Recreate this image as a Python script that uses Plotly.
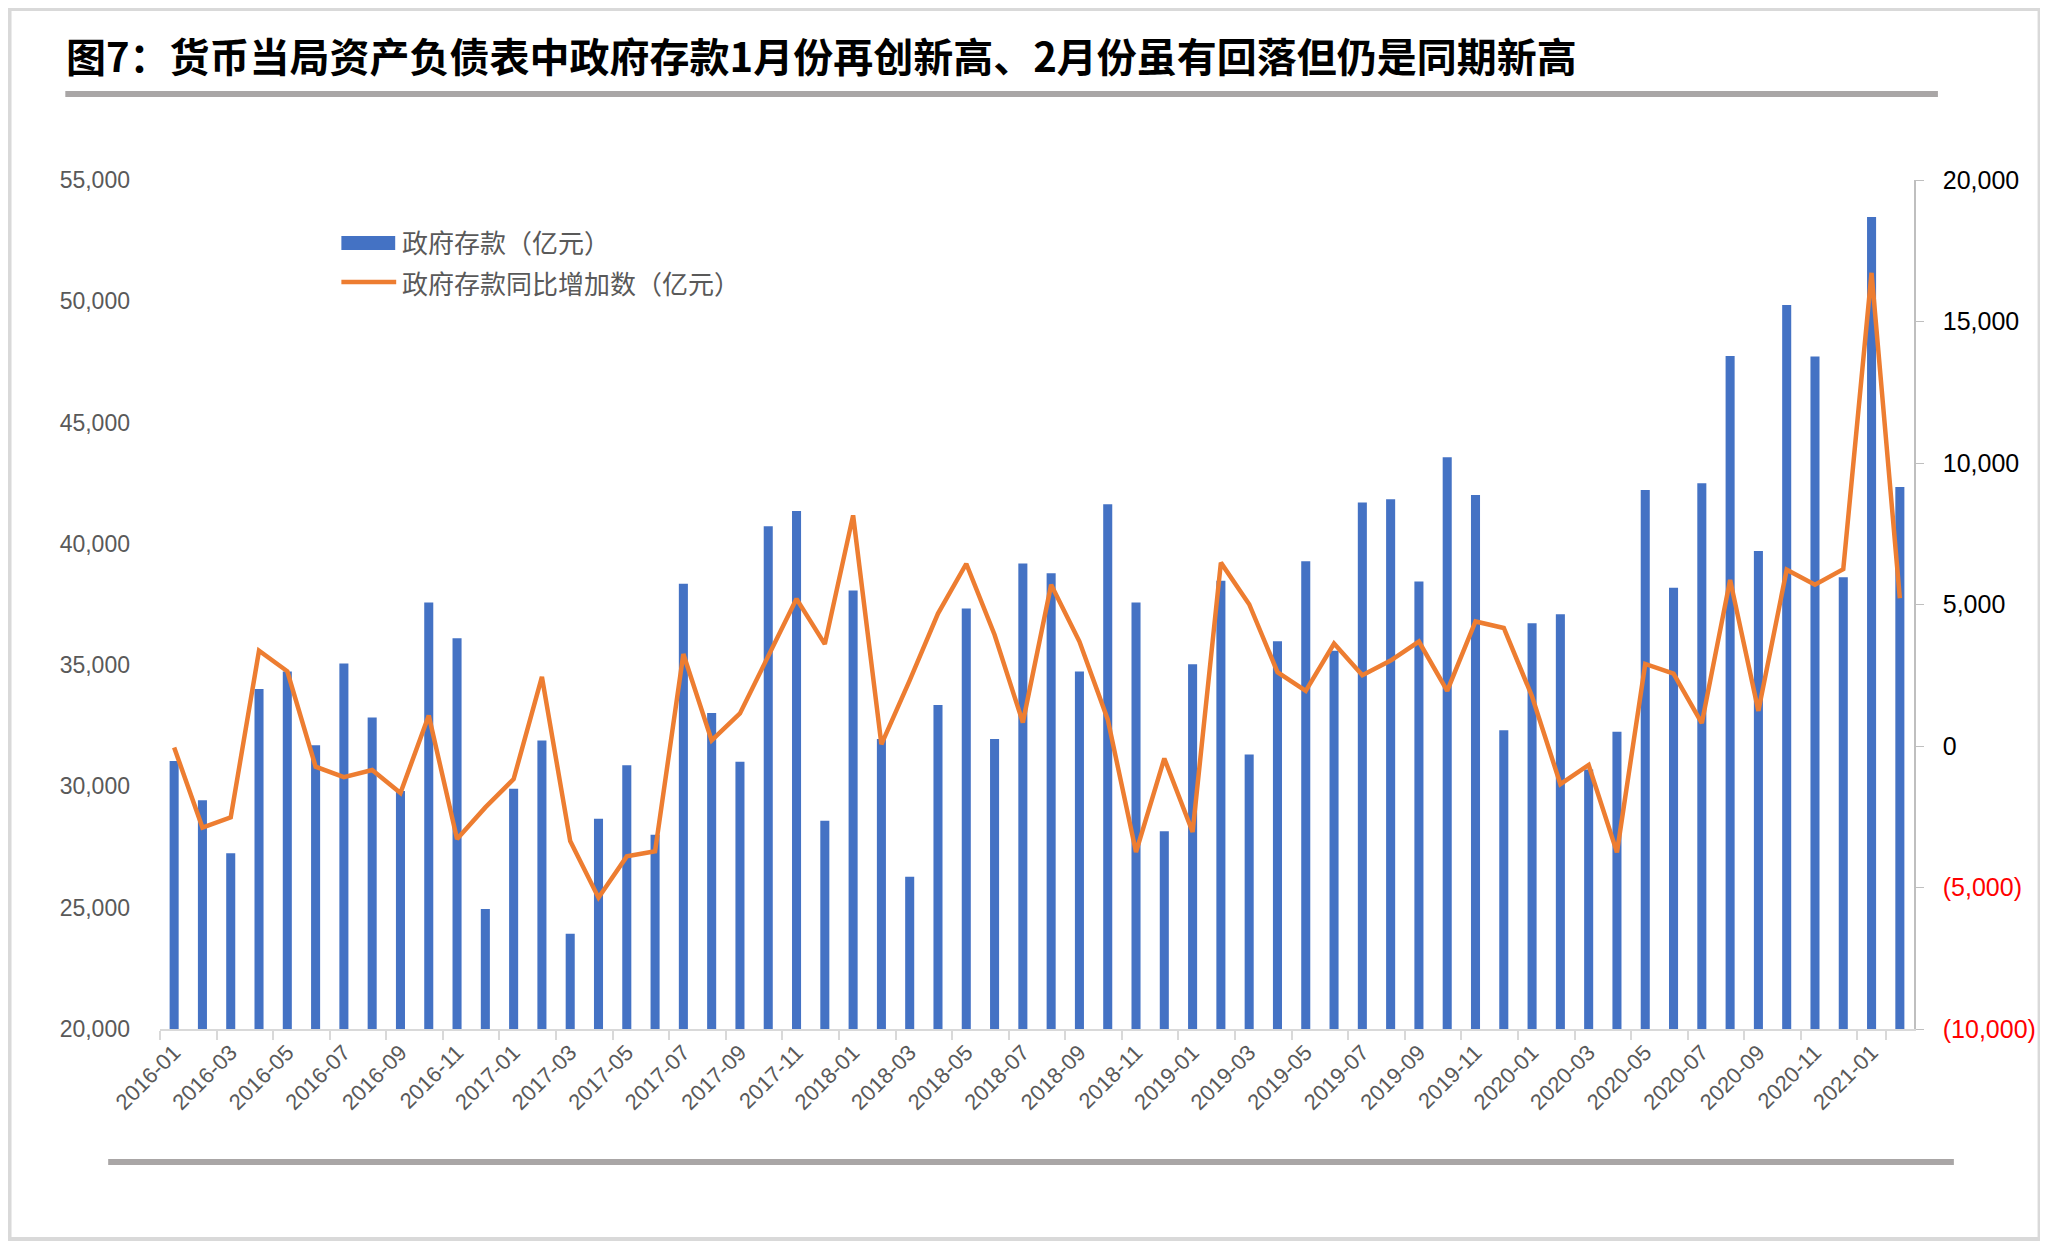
import pandas as pd
import plotly.graph_objects as go

# ---- data ----
months = list(pd.period_range("2016-01", "2021-02", freq="M").strftime("%Y-%m"))

# 政府存款（亿元）
gov_deposits = [
    31050, 29430, 27250, 34020, 34740, 31700, 35070, 32840, 29810, 37580, 36110, 24950,
    29900, 31890, 23930, 28670, 30870, 28010, 38360, 33030, 31020, 40730, 41350, 28580,
    38080, 31960, 26280, 33360, 37340, 31960, 39190, 38790, 34740, 41630, 37580, 28150,
    35040, 38480, 31320, 35990, 39280, 35590, 41700, 41840, 38450, 43570, 42010, 32320,
    36730, 37100, 30700, 32250, 42220, 38190, 42500, 47740, 39710, 49850, 47720, 38620,
    53470, 42340,
]

# 政府存款同比增加数（亿元）
yoy_increase = [
    -50, -2880, -2520, 3370, 2640, -730, -1100, -850, -1660, 1080, -3290, -2170,
    -1170, 2440, -3360, -5360, -3900, -3720, 3250, 200, 1150, 3150, 5200, 3600,
    8150, 60, 2320, 4680, 6440, 3930, 830, 5700, 3690, 940, -3750, -440,
    -3040, 6480, 5010, 2610, 1950, 3620, 2500, 3020, 3690, 1950, 4400, 4170,
    1750, -1350, -670, -3760, 2900, 2560, 810, 5870, 1240, 6230, 5700, 6250,
    16720, 5220,
]

left_ticks = [20000, 25000, 30000, 35000, 40000, 45000, 50000, 55000]
right_ticks = [-10000, -5000, 0, 5000, 10000, 15000, 20000]

title_text = "图7：货币当局资产负债表中政府存款1月份再创新高、2月份虽有回落但仍是同期新高"
bar_name = "政府存款（亿元）"
line_name = "政府存款同比增加数（亿元）"

BLUE = "#4472C4"
ORANGE = "#ED7D31"
GREY_TXT = "#595959"
CJK = "Noto Sans CJK SC"
LATIN = "Liberation Sans, Arial, sans-serif"

# page geometry: the html body adds an 8px margin, so the figure is 8px smaller
OFF = 8
W, H = 2048 - OFF, 1241 - OFF
ML, MR, MT, MB = 160 - OFF, 2048 - 1920, 180 - OFF, 1241 - 1029
PW, PH = W - ML - MR, H - MT - MB


# helpers: page pixel -> paper coordinates
def px(x):
    return (x - OFF - ML) / PW


def py(y):
    return (H - MB - (y - OFF)) / PH


def right_label(v):
    if v < 0:
        return f"<span style='color:#FF0000'>({abs(v):,})</span>"
    return f"{v:,}"


fig = go.Figure()

fig.add_trace(go.Bar(
    x=months, y=gov_deposits, name=bar_name,
    marker=dict(color=BLUE, line=dict(width=0)),
    showlegend=False,
))
fig.add_trace(go.Scatter(
    x=months, y=yoy_increase, name=line_name, yaxis="y2",
    mode="lines", line=dict(color=ORANGE, width=4.5),
    showlegend=False,
))

shapes = [
    # outer frame
    dict(type="rect", xref="paper", yref="paper", x0=px(OFF + 1), x1=px(2046), y0=py(1239), y1=py(OFF + 1),
         line=dict(color="#d9d9d9", width=4), fillcolor="rgba(0,0,0,0)", layer="below"),
    # rule under the title
    dict(type="line", xref="paper", yref="paper", x0=px(65), x1=px(1944), y0=py(94), y1=py(94),
         line=dict(color="#a9a6a6", width=6)),
    # rule at the bottom
    dict(type="line", xref="paper", yref="paper", x0=px(108), x1=px(1960), y0=py(1162), y1=py(1162),
         line=dict(color="#a9a6a6", width=6)),
    # legend keys
    dict(type="rect", xref="paper", yref="paper", x0=px(342), x1=px(396), y0=py(250), y1=py(236),
         line=dict(width=0), fillcolor=BLUE),
    dict(type="line", xref="paper", yref="paper", x0=px(342), x1=px(397), y0=py(282), y1=py(282),
         line=dict(color=ORANGE, width=4.5)),
]

annotations = [
    dict(text=title_text, xref="paper", yref="paper", x=px(64), y=py(55),
         xanchor="left", yanchor="middle", showarrow=False,
         font=dict(family=CJK, size=40, color="#000000", weight="bold")),
    dict(text=bar_name, xref="paper", yref="paper", x=px(401), y=py(242),
         xanchor="left", yanchor="middle", showarrow=False,
         font=dict(family=CJK, size=26, color=GREY_TXT)),
    dict(text=line_name, xref="paper", yref="paper", x=px(401), y=py(282),
         xanchor="left", yanchor="middle", showarrow=False,
         font=dict(family=CJK, size=26, color=GREY_TXT)),
]

fig.update_layout(
    width=W, height=H,
    margin=dict(l=ML, r=MR, t=MT, b=MB),
    paper_bgcolor="white", plot_bgcolor="white",
    bargap=0.68,
    showlegend=False,
    shapes=shapes,
    annotations=annotations,
    xaxis=dict(
        type="category",
        tickmode="array", tickvals=months[::2], ticktext=months[::2],
        tickson="boundaries", ticks="outside", ticklen=9, tickcolor="#d9d9d9", tickwidth=2,
        tickangle=-45, tickfont=dict(family=LATIN, size=22, color=GREY_TXT),
        showline=True, linecolor="#d9d9d9", linewidth=2,
        showgrid=False, zeroline=False,
    ),
    yaxis=dict(
        range=[20000, 55000], tickvals=left_ticks, tickformat=",",
        tickfont=dict(family=LATIN, size=23, color=GREY_TXT),
        showline=False, showgrid=False, zeroline=False, ticks="",
        ticklabelstandoff=29,
    ),
    yaxis2=dict(
        overlaying="y", side="right", range=[-10000, 20000],
        tickvals=right_ticks, ticktext=[right_label(v) for v in right_ticks],
        tickfont=dict(family=LATIN, size=25, color="#000000"),
        showline=True, linecolor="#bfbfbf", linewidth=1.5,
        ticks="outside", ticklen=8, tickcolor="#bfbfbf",
        showgrid=False, zeroline=False,
        ticklabelstandoff=14,
    ),
)

fig.write_html("out.html")
